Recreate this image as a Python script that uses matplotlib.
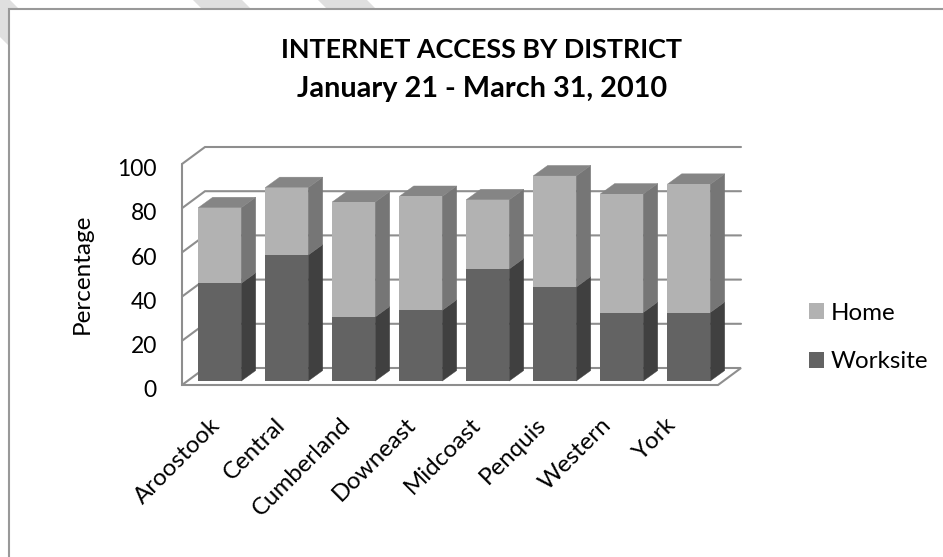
import matplotlib
matplotlib.use("Agg")
import matplotlib.pyplot as plt
from matplotlib.patches import Polygon, Rectangle, Patch
from matplotlib.lines import Line2D
from matplotlib.transforms import ScaledTranslation

plt.rcParams['font.family'] = ['Lato', 'DejaVu Sans']

districts = ["Aroostook", "Central", "Cumberland", "Downeast", "Midcoast", "Penquis", "Western", "York"]
worksite = [44.2, 57.0, 29.0, 32.0, 50.7, 42.5, 31.0, 31.0]
home = [34.2, 30.5, 52.0, 51.5, 31.3, 50.3, 53.6, 58.0]
y_ticks = [0, 20, 40, 60, 80, 100]

W, H = 943, 557
fig = plt.figure(figsize=(W / 100, H / 100), dpi=100, facecolor="white")


def fx(px):
    return px / W


def fy(py):
    return 1 - py / H


# Page decoration: diagonal bands behind the white chart panel
for x0 in (-37, 193, 318):
    fig.add_artist(Polygon(
        [(fx(x0), fy(0)), (fx(x0 + 49), fy(0)), (fx(x0 + 59), fy(10)), (fx(x0 + 10), fy(10))]
        if x0 > 0 else
        [(fx(0), fy(37)), (fx(0), fy(0)), (fx(10), fy(0)), (fx(20), fy(10)), (fx(10), fy(10)), (fx(10), fy(47))],
        closed=True, transform=fig.transFigure, facecolor="#dfdfdf", edgecolor="none", zorder=-3))
fig.add_artist(Rectangle((fx(8.5), 0), 1 - fx(8.5), fy(8.5), transform=fig.transFigure,
                         facecolor="white", edgecolor="none", zorder=-2))
fig.add_artist(Line2D([fx(8.5), fx(8.5), 1], [0, fy(8.5), fy(8.5)], transform=fig.transFigure,
                      color="#999999", lw=1.5, zorder=-1, solid_joinstyle="miter"))

ax = fig.add_axes([fx(182), fy(385), fx(718) - fx(182), fy(164) - fy(385)])
ax.set_xlim(0, 8)
ax.set_ylim(0, 100)
ax.patch.set_visible(False)
for spine in ax.spines.values():
    spine.set_visible(False)

# Depth of the box and of each bar, in data units
BOX_DX, BOX_DY = 23 / 67, 17 / 2.21
BAR_DX, BAR_DY = 14.5 / 67, 10.5 / 2.21
BAR_W = 43 / 67
BAR_SHIFT = 4.2 / 67
BASE = 1.8

WALL = "#8e8e8e"
line_kw = dict(color=WALL, lw=1.5, clip_on=False, solid_capstyle="round", solid_joinstyle="miter")

# Floor, side wall and back wall
ax.plot([0, 0, 8, 8 + BOX_DX, BOX_DX, 0],
        [100, 0, 0, BOX_DY, BOX_DY, 0], zorder=1, **line_kw)
for v in y_ticks[1:]:
    ax.plot([0, BOX_DX, 8 + BOX_DX], [v, v + BOX_DY, v + BOX_DY], zorder=1, **line_kw)

FRONT = {"Worksite": "#636363", "Home": "#b2b2b2"}
SIDE = {"Worksite": "#404040", "Home": "#767676"}
TOP = "#858585"


def add_face(points, color):
    ax.add_patch(Polygon(points, closed=True, facecolor=color, edgecolor=color, lw=0.3,
                         clip_on=False, zorder=3))


lefts = [i + 0.5 + BAR_SHIFT - BAR_W / 2 for i in range(len(districts))]
centers = [i + 0.5 + BAR_SHIFT for i in range(len(districts))]
bottoms_home = [BASE + w for w in worksite]

for left, w, h in zip(lefts, worksite, home):
    right = left + BAR_W
    y1 = BASE + w
    y2 = y1 + h
    add_face([(right, BASE), (right + BAR_DX, BASE + BAR_DY), (right + BAR_DX, y1 + BAR_DY), (right, y1)],
             SIDE["Worksite"])
    add_face([(right, y1), (right + BAR_DX, y1 + BAR_DY), (right + BAR_DX, y2 + BAR_DY), (right, y2)],
             SIDE["Home"])
    add_face([(left, y2), (right, y2), (right + BAR_DX, y2 + BAR_DY), (left + BAR_DX, y2 + BAR_DY)], TOP)

ax.bar(centers, worksite, BAR_W, bottom=BASE, color=FRONT["Worksite"], zorder=4, clip_on=False)
ax.bar(centers, home, BAR_W, bottom=bottoms_home, color=FRONT["Home"], zorder=4, clip_on=False)

ax.set_yticks(y_ticks)
ax.set_yticklabels([str(v) for v in y_ticks], fontsize=16.5, color="black")
ax.tick_params(axis="y", length=0, pad=18)
nudge_y = ScaledTranslation(0, -2.7 / 72, fig.dpi_scale_trans)
for lab in ax.get_yticklabels():
    lab.set_transform(lab.get_transform() + nudge_y)

# Slanted category labels sit on a slightly tighter pitch than the bars
ax.set_xticks([0.41 + i * 0.972 for i in range(len(districts))])
ax.set_xticklabels(districts, fontsize=17.3, rotation=45, ha="right", va="top", rotation_mode="anchor")
ax.tick_params(axis="x", length=0, pad=21)

fig.text(fx(82), fy(274), "Percentage", rotation=90, ha="center", va="center", fontsize=17.5)

fig.text(fx(482), fy(50), "INTERNET ACCESS BY DISTRICT", ha="center", va="center",
         fontsize=19.4, fontweight="bold")
fig.text(fx(482), fy(89), "January 21 - March 31, 2010", ha="center", va="center",
         fontsize=20.8, fontweight="bold")

fig.legend(handles=[Patch(facecolor=FRONT["Home"], label="Home"),
                    Patch(facecolor=FRONT["Worksite"], label="Worksite")],
           loc="center left", bbox_to_anchor=(fx(787), fy(337.5)), frameon=False, fontsize=17.4,
           handlelength=0.62, handleheight=0.62, handletextpad=0.29, labelspacing=1.15)

fig.savefig("out.png", dpi=100)
